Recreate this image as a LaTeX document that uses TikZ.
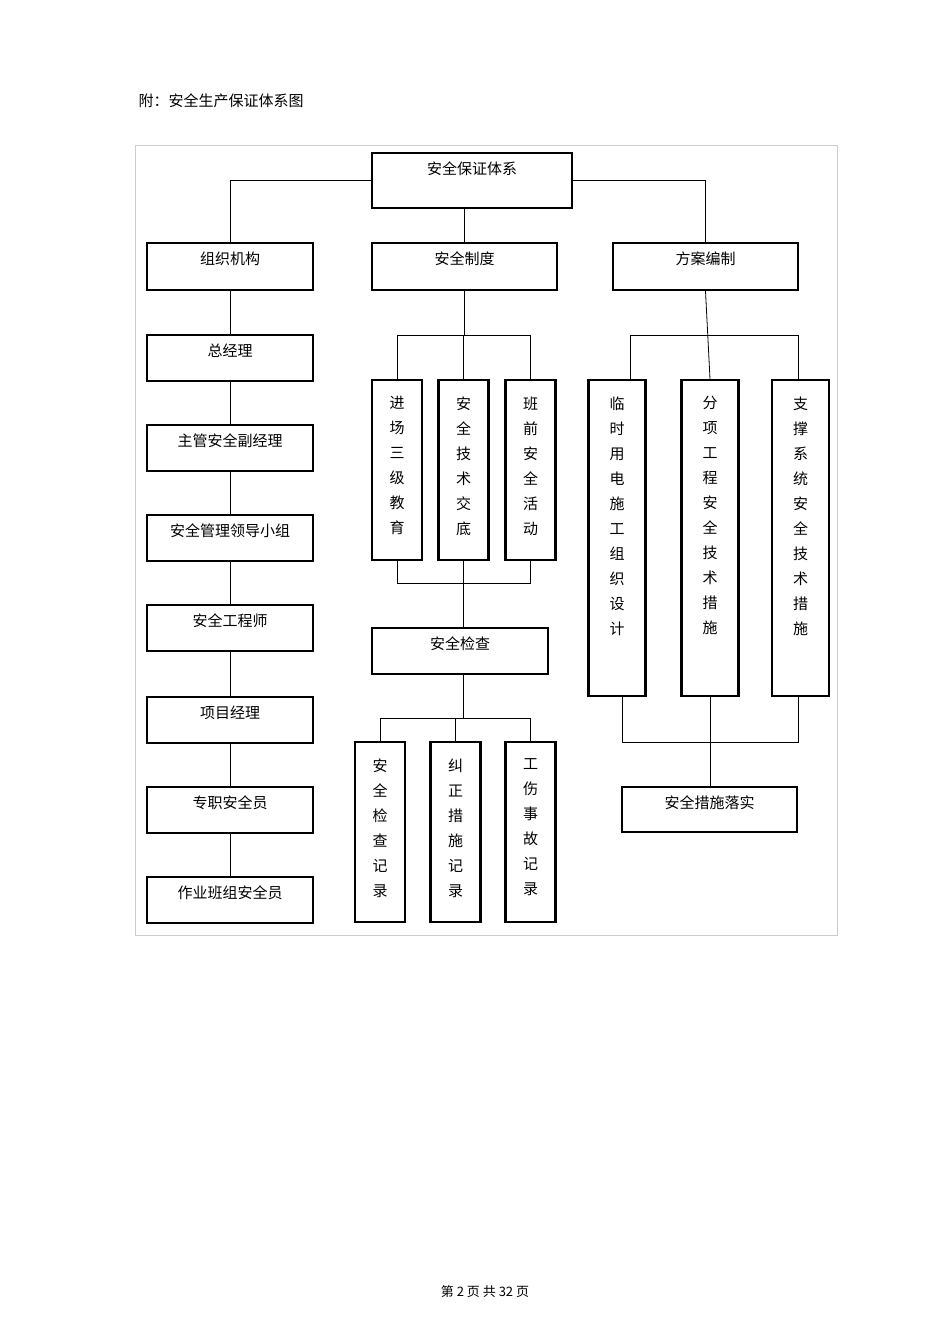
\documentclass[tikz,border=0pt]{standalone}
\usepackage{fontspec}
\setmainfont{Noto Sans CJK SC}
\usetikzlibrary{positioning}

\begin{document}
\begin{tikzpicture}[x=1pt, y=-1pt,
  every node/.style={font=\fontsize{15}{25}\selectfont},
  box/.style={draw, line width=2.2pt, shape=rectangle, inner sep=0pt},
  vbox/.style={box, minimum width=50pt, minimum height=180pt},
  tall/.style={box, minimum width=57pt, minimum height=316pt},
  vtxt/.style={align=center, anchor=north, yshift=-14pt},
  htxt/.style={anchor=center, yshift=-17pt},
  link/.style={line width=0.8pt}]

\useasboundingbox (0,0) rectangle (950,1344);
\draw[gray!40] (135,145) rectangle (837,935);
\node[anchor=west] (title) at (135,101) {附：安全生产保证体系图};
\node[font=\fontsize{13}{15}\selectfont] (page) at (485,1292) {第 2 页 共 32 页};

% top levels
\node[box, minimum width=200pt, minimum height=55pt, label={[htxt]north:安全保证体系}] (sys) at (472,180.5) {};
\node[box, minimum width=166pt, minimum height=47pt, label={[htxt]north:组织机构}] (org) at (230,266.5) {};
\node[box, minimum width=185pt, minimum height=47pt, label={[htxt]north:安全制度}] (rule) at (464.5,266.5) {};
\node[box, minimum width=185pt, minimum height=47pt, label={[htxt]north:方案编制}] (plan) at (705.5,266.5) {};

% left column
\foreach \nm/\y/\txt in {m1/358/总经理, m2/448/主管安全副经理, m3/538/安全管理领导小组,
  m4/628/安全工程师, m5/720/项目经理, m6/810/专职安全员, m7/900/作业班组安全员}
  \node[box, minimum width=166pt, minimum height=46pt, label={[htxt]north:\txt}] (\nm) at (230,\y) {};

% middle column
\node[vbox, label={[vtxt]north:进\\场\\三\\级\\教\\育}] (e1) at (397,470) {};
\node[vbox, label={[vtxt]north:安\\全\\技\\术\\交\\底}] (e2) at (463.5,470) {};
\node[vbox, label={[vtxt]north:班\\前\\安\\全\\活\\动}] (e3) at (530.5,470) {};
\node[box, minimum width=176pt, minimum height=46pt, label={[htxt]north:安全检查}] (chk) at (460,651) {};
\node[vbox, label={[vtxt]north:安\\全\\检\\查\\记\\录}] (r1) at (380,832) {};
\node[vbox, label={[vtxt]north:纠\\正\\措\\施\\记\\录}] (r2) at (455.5,832) {};
\node[vbox, label={[vtxt]north:工\\伤\\事\\故\\记\\录}] (r3) at (530.5,832) {};

% right column
\node[tall, label={[vtxt]north:临\\时\\用\\电\\施\\工\\组\\织\\设\\计}] (p1) at (617,538) {};
\node[tall, label={[vtxt]north:分\\项\\工\\程\\安\\全\\技\\术\\措\\施}] (p2) at (710,538) {};
\node[tall, label={[vtxt]north:支\\撑\\系\\统\\安\\全\\技\\术\\措\\施}] (p3) at (800.5,538) {};
\node[box, minimum width=175pt, minimum height=45pt, label={[htxt]north:安全措施落实}] (done) at (709.5,809.5) {};

% connectors
\draw[link] (sys.west) -| (org.north);
\draw[link] (sys.east) -| (plan.north);
\draw[link] (sys.south -| rule.north) -- (rule.north);
\draw[link] (org.south) -- (m1.north);
\foreach \a/\b in {m1/m2, m2/m3, m3/m4, m4/m5, m5/m6, m6/m7}
  \draw[link] (\a.south) -- (\b.north);

\draw[link] (rule.south) -- (rule.south |- 0,335);
\draw[link] (e1.north) -- (e1.north |- 0,335) -| (e3.north);
\draw[link] (e2.north) -- (e2.north |- 0,335);
\draw[link] (e1.south) -- (e1.south |- 0,583) -| (e3.south);
\draw[link] (e2.south) -- (e2.south |- chk.north);
\draw[link] (chk.south -| e2.south) -- (e2.south |- 0,718);
\draw[link] (r1.north) -- (r1.north |- 0,718) -| (r3.north);
\draw[link] (r2.north) -- (r2.north |- 0,718);

\draw[link] (plan.south) -- (p2.north);
\draw[link] (p1.north -| 630,0) -- (630,335) -| (p3.north -| 798,0);
\draw[link] (p1.south -| 622,0) -- (622,742) -| (p3.south -| 798,0);
\draw[link] (p2.south) -- (done.north -| p2.south);
\end{tikzpicture}
\end{document}
